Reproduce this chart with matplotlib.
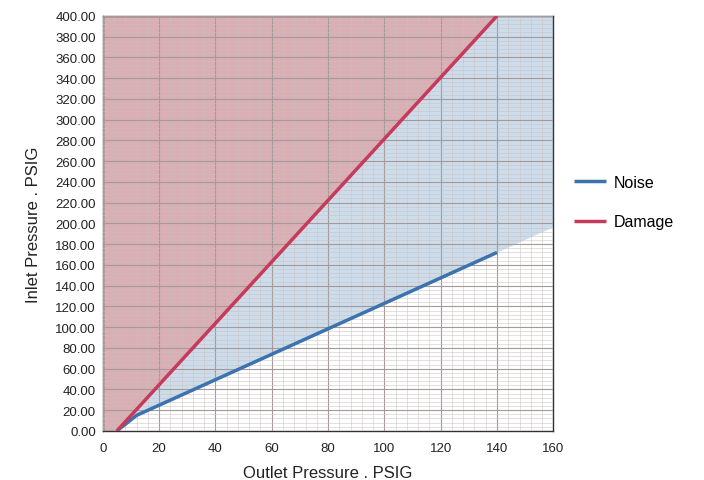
import numpy as np
import matplotlib
matplotlib.use('Agg')
import matplotlib.pyplot as plt

plt.rcParams['font.family'] = ['Liberation Sans', 'DejaVu Sans']

# Data
noise_x = [5, 12, 140]
noise_y = [0, 15, 172]
damage_x = [5, 140]
damage_y = [0, 400]
# Noise boundary of the shaded band, carried to the right edge
band_x = [5, 12, 160]
band_y = [0, 15, 197]

xticks = np.arange(0, 161, 20)
yticks = np.arange(0, 401, 20)

fig = plt.figure(figsize=(7.04, 4.81), dpi=100)
ax = fig.add_axes([0.146, 0.102, 0.64, 0.863])

xs = np.linspace(0, 160, 801)
dmg = np.interp(xs, damage_x, damage_y, right=1e9)
dmg = np.where(xs < damage_x[0], 0, dmg)
dmg = np.minimum(dmg, 400)
nse = np.interp(xs, band_x, band_y)
nse = np.where(xs < band_x[0], 0, nse)

ax.fill_between(xs, dmg, 400, color='#d9afb4', lw=0, zorder=0)
ax.fill_between(xs, nse, dmg, color='#cddcea', lw=0, zorder=0)

ax.plot(noise_x, noise_y, color='#3c72ad', lw=2.5, label='Noise',
        zorder=4, solid_capstyle='butt')
ax.plot(damage_x, damage_y, color='#c63a5c', lw=2.5, label='Damage',
        zorder=4, solid_capstyle='butt')

ax.set_xlim(0, 160)
ax.set_ylim(0, 400)
ax.set_xticks(xticks)
ax.set_yticks(yticks)
ax.set_yticklabels(['%.2f' % v for v in yticks])
ax.set_xticks(np.arange(0, 161, 4), minor=True)
ax.set_yticks(np.arange(0, 401, 4), minor=True)
ax.set_axisbelow(False)
ax.grid(which='major', color='#a59a9a', lw=0.8, zorder=2)
ax.grid(which='minor', color='#c9bfbf', lw=0.45, alpha=0.75, zorder=1)
ax.tick_params(which='both', length=0, labelsize=9.5, colors='#222222')
ax.tick_params(axis='x', pad=8)
ax.tick_params(axis='y', pad=5)
for s in ax.spines.values():
    s.set_color('#333333')
    s.set_linewidth(1)

ax.set_xlabel('Outlet Pressure . PSIG', fontsize=12, color='#222222', labelpad=8)
ax.set_ylabel('Inlet Pressure . PSIG', fontsize=12, color='#222222', labelpad=10)

fig.legend(loc='upper left', bbox_to_anchor=(0.795, 0.665), frameon=False,
           fontsize=11.5, handlelength=2.0, handletextpad=0.5, labelspacing=1.55)

plt.savefig('out.png', dpi=100)
